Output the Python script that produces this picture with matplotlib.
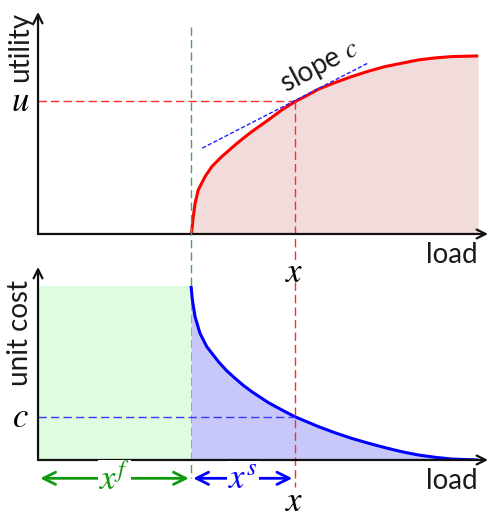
import matplotlib
matplotlib.use("Agg")
import matplotlib.pyplot as plt

plt.rcParams["font.family"] = ["Lato", "DejaVu Sans"]
plt.rcParams["mathtext.fontset"] = "stix"

# utility curve (load, utility)
load_u = [3.41, 3.43, 3.45, 3.49, 3.56, 3.71, 3.86, 4.08, 4.38, 4.56, 4.75, 5.12, 5.42,
          5.71, 5.97, 6.23, 6.6, 6.97, 7.34, 7.71, 8.08, 8.45, 8.82, 9.19, 9.78]
utility = [0.0, 0.41, 0.78, 1.38, 1.98, 2.58, 3.03, 3.48, 4.01, 4.31, 4.61, 5.14, 5.59,
           5.96, 6.23, 6.52, 6.82, 7.09, 7.33, 7.54, 7.69, 7.84, 7.93, 7.99, 8.02]

# unit cost curve (load, cost)
load_c = [3.4, 3.43, 3.49, 3.6, 3.75, 4.01, 4.19, 4.38, 4.56, 4.75, 5.12, 5.42, 5.71,
          6.23, 6.6, 6.97, 7.34, 7.71, 8.08, 8.45, 8.82, 9.19, 9.78]
unit_cost = [9.02, 8.29, 7.42, 6.56, 5.87, 5.09, 4.63, 4.23, 3.87, 3.54, 2.97, 2.59, 2.24,
             1.73, 1.41, 1.12, 0.87, 0.64, 0.43, 0.26, 0.14, 0.05, 0.0]

x_f = 3.4        # fixed part of the load
x_op = 5.7       # operating load x
u_level = 6.0
c_level = 2.24
slope_c = 1.04
tangent_x = [3.65, 7.35]

RED = "#ff0000"
BLUE = "#0000ff"
GREEN = "#119911"
DASH_RED = "#ff2a2a"

fig = plt.figure(figsize=(4.99, 5.18), dpi=100)
ax1 = fig.add_axes([0.0762, 0.5483, 0.9018, 0.4286])
ax2 = fig.add_axes([0.0762, 0.1120, 0.9018, 0.3726])

for ax in (ax1, ax2):
    ax.set_xlim(0, 10)
    ax.set_ylim(0, 10)
    ax.axis("off")
    for xy in [(1, 0), (0, 1)]:
        ax.annotate("", xy=xy, xytext=(0, 0), xycoords="axes fraction",
                    arrowprops=dict(arrowstyle="->", lw=1.6, color="#111111",
                                    shrinkA=0, shrinkB=0, mutation_scale=16),
                    annotation_clip=False)

label_kw = dict(fontsize=20, color="#1a1a1a", ha="center", va="center")

# --- top: utility ---
ax1.fill_between(load_u, 0, utility, color="#f2dcdb", lw=0)
ax1.plot(load_u, utility, color=RED, lw=2.2, solid_capstyle="butt")
ax1.plot([0, x_op], [u_level, u_level], color=DASH_RED, lw=1, dashes=(6, 3))
ax1.plot([x_op, x_op], [u_level, -1.17], color=DASH_RED, lw=1, dashes=(6, 3), clip_on=False)
tan_y = [u_level + slope_c * (t - x_op) for t in tangent_x]
ax1.plot(tangent_x, tan_y, color="#2020ff", lw=1, dashes=(3, 1.5))
ax1.plot([x_f, x_f], [9.32, -11.0], color="#3fb03f", lw=1, dashes=(6, 3), clip_on=False, zorder=5)

ax1.text(6.25, 7.6, "slope $c$", rotation=28, rotation_mode="anchor", **label_kw)
ax1.text(-0.4, 8.4, "utility", rotation=90, **label_kw)
ax1.text(-0.4, u_level, "$u$", fontsize=25, ha="center", va="center")
ax1.text(9.2, -0.95, "load", **label_kw)
ax1.text(x_op, -1.72, "$x$", fontsize=25, ha="center", va="center")

# --- bottom: unit cost ---
ax2.fill_between([0, x_f], 0, unit_cost[0], color="#e0fce0", lw=0)
ax2.fill_between(load_c, 0, unit_cost, color="#c7c7f9", lw=0)
ax2.plot(load_c, unit_cost, color=BLUE, lw=2.2, solid_capstyle="butt")
ax2.plot([0, x_op], [c_level, c_level], color="#3a3aff", lw=1, dashes=(6, 3))
ax2.plot([x_op, x_op], [9.2, -1.4], color=DASH_RED, lw=1, dashes=(6, 3), clip_on=False)

ax2.text(-0.4, 6.6, "unit cost", rotation=90, **label_kw)
ax2.text(-0.4, c_level, "$c$", fontsize=25, ha="center", va="center")
ax2.text(9.2, -1.1, "load", **label_kw)
ax2.text(x_op, -2.15, "$x$", fontsize=25, ha="center", va="center")

arrow_y = -0.95
ax2.annotate("", xy=(0.05, arrow_y), xytext=(x_f - 0.05, arrow_y),
             arrowprops=dict(arrowstyle="<->", lw=2, color=GREEN, shrinkA=0, shrinkB=0,
                             mutation_scale=22), annotation_clip=False)
ax2.annotate("", xy=(x_f + 0.05, arrow_y), xytext=(x_op - 0.05, arrow_y),
             arrowprops=dict(arrowstyle="<->", lw=2, color=BLUE, shrinkA=0, shrinkB=0,
                             mutation_scale=22), annotation_clip=False)
ax2.text(x_f / 2, arrow_y, "$x^f$", fontsize=25, color=GREEN, ha="center", va="center",
         bbox=dict(facecolor="white", edgecolor="none", pad=1))
ax2.text((x_f + x_op) / 2, arrow_y, "$x^s$", fontsize=25, color=BLUE, ha="center", va="center",
         bbox=dict(facecolor="white", edgecolor="none", pad=1))

fig.savefig("out.png", dpi=100)
